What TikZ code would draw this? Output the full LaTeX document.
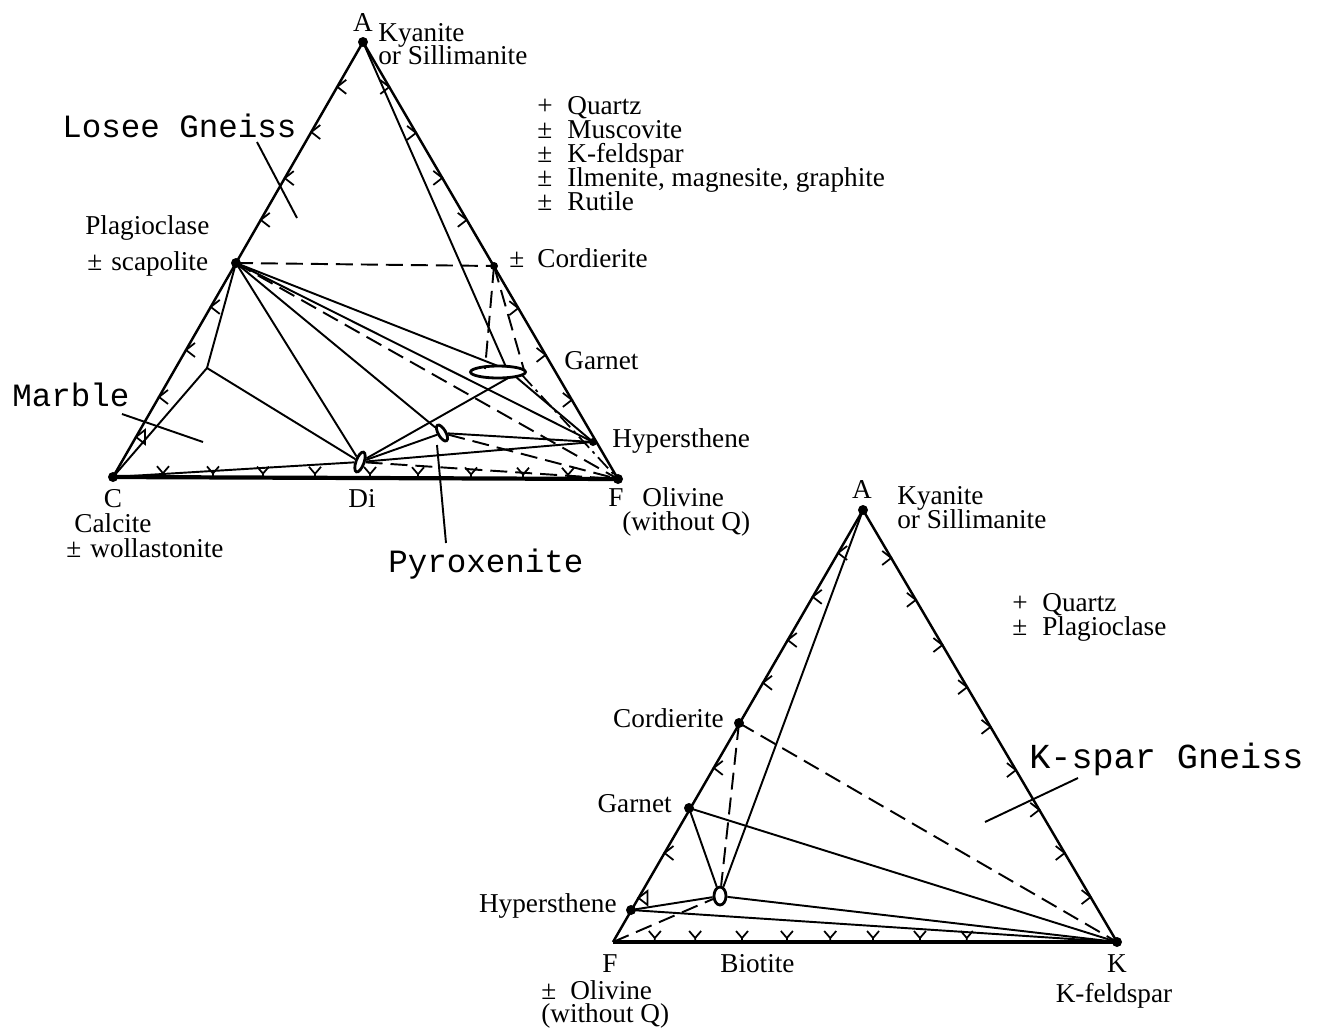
\documentclass[tikz,border=0pt]{standalone}
\usepackage{fontspec}
\setmainfont{Liberation Serif}
\newfontfamily\monofont{Liberation Mono}
\usetikzlibrary{shapes.geometric,calc}
\begin{document}
\begin{tikzpicture}[x=0.02cm,y=-0.02cm,
  edge/.style={line width=1.4pt},
  base/.style={line width=2.4pt},
  tie/.style={line width=1.1pt},
  dsh/.style={line width=1.1pt, dash pattern=on 0.34cm off 0.16cm},
  dd/.style={line width=1.0pt, dash pattern=on 0.3cm off 0.1cm on 0.06cm off 0.1cm},
  dot/.style={circle, fill, inner sep=0pt, minimum size=0.2cm},
  oval/.style={ellipse, draw, line width=1.6pt, inner sep=0pt},
  lbl/.style={font=\fontsize{15.5}{18}\selectfont, inner sep=0pt},
  mono/.style={font=\monofont\fontsize{18.5}{20}\selectfont, inner sep=0pt},
  tick/.style={line width=1.0pt},
  chevL/.pic={\draw[tick] (9,-7) -- (0,0) -- (9,7);},
  chevR/.pic={\draw[tick] (-9,-7) -- (0,0) -- (-9,7);},
  chevT/.pic={\draw[tick] (9,-7) -- (0,0) -- (9,7) -- cycle;},
  chevY/.pic={\draw[tick] (-6,-11) -- (0,-4) -- (6,-11) (0,-4) -- (0,0);}
]
\useasboundingbox (0,0) rectangle (1326,1032);

% ---------------- upper triangle ----------------
\node[dot] (A) at (363,42) {};
\node[dot] (C) at (113,477) {};
\node[dot] (F) at (618,479) {};
\node[dot] (P) at (236,263) {};
\node[dot, minimum size=0.16cm] (Cd) at (494,266) {};
\node[dot, minimum size=0.16cm] (H) at (593,442) {};
\coordinate (K1) at (207,368);
\node[oval, minimum width=0.16cm, minimum height=0.42cm, rotate=-20] (Di) at (360,462) {};
\node[oval, minimum width=0.15cm, minimum height=0.36cm, rotate=30] (Px) at (442,433) {};
\node[oval, minimum width=1.1cm, minimum height=0.24cm] (Gt) at (498,372) {};
\coordinate (gA) at (506,367);
\coordinate (gCl) at (485,369);
\coordinate (gCr) at (524,370);
\coordinate (gP) at (498,366);
\coordinate (gD) at (510,377);
\coordinate (gH) at (516,377);
\coordinate (gF) at (522,375);

\draw[edge] (A.center) -- (C.center);
\draw[edge] (A.center) -- (F.center);
\draw[base] (C.center) -- (F.center);
\draw[tie] (A.center) -- (gA);
\draw[tie] (P.center) -- (K1) -- (C.center);
\draw[tie] (K1) -- (Di);
\draw[tie] (P.center) -- (Di);
\draw[tie] (P.center) -- (Px);
\draw[tie] (P.center) -- (gP);
\draw[tie] (P.center) -- (H.center);
\draw[tie] (C.center) -- (Di);
\draw[tie] (Di) -- (H.center);
\draw[tie] (Di) -- (gD);
\draw[tie] (Di) -- (Px);
\draw[tie] (Px) -- (H.center);
\draw[tie] (gH) -- (H.center);
\draw[dsh] (P.center) -- (Cd.center);
\draw[dsh] (Cd.center) -- (gCl);
\draw[dsh] (Cd.center) -- (gCr);
\draw[dsh] (P.center) -- (F.center);
\draw[dd] (gF) -- (F.center);
\draw[dsh] (Di) -- (F.center);
\draw[dsh] (Px) -- (F.center);

\foreach \t in {0.103,0.207,0.313,0.409,0.609,0.708,0.816}
  \pic at ($(A.center)!\t!(C.center)$) {chevL};
\pic at ($(A.center)!0.908!(C.center)$) {chevT};
\foreach \t in {0.103,0.208,0.311,0.407,0.609,0.716,0.819}
  \pic at ($(A.center)!\t!(F.center)$) {chevR};
\foreach \t in {0.099,0.198,0.297,0.400,0.509,0.604,0.709,0.812,0.901}
  \pic at ($(C.center)!\t!(F.center)$) {chevY};

% labels upper
\node[lbl, anchor=base] (tA) at (363,31) {A};
\node[lbl, anchor=base west] (ky1) at (378,41)
  {\vtop{\baselineskip=0.46cm\lineskiplimit=-20pt\hbox{Kyanite}\hbox{or Sillimanite}}};
\node[lbl, anchor=base west] (q1) at (537,114)
  {\vtop{\baselineskip=0.485cm\lineskiplimit=-20pt
   \hbox{\makebox[0.6cm][l]{+}Quartz}
   \hbox{\makebox[0.6cm][l]{±}Muscovite}
   \hbox{\makebox[0.6cm][l]{±}K-feldspar}
   \hbox{\makebox[0.6cm][l]{±}Ilmenite, magnesite, graphite}
   \hbox{\makebox[0.6cm][l]{±}Rutile}}};
\node[lbl, anchor=base west] (tCd) at (509,267) {\makebox[0.56cm][l]{±}Cordierite};
\node[lbl, anchor=base west] (tGt) at (564,369) {Garnet};
\node[lbl, anchor=base west] (tH) at (612,447) {Hypersthene};
\node[lbl, anchor=base west] (tP1) at (85,234) {Plagioclase};
\node[lbl, anchor=base west] (tP2) at (87,270) {\makebox[0.48cm][l]{±}scapolite};
\node[mono, anchor=base west] (tLG) at (62,137) {Losee Gneiss};
\node[mono, anchor=base west] (tMb) at (12,406) {Marble};
\node[lbl, anchor=base] (tC) at (113,507) {C};
\node[lbl, anchor=base] (tC2) at (113,532) {Calcite};
\node[lbl, anchor=base west] (tC3) at (66,557) {\makebox[0.48cm][l]{±}wollastonite};
\node[lbl, anchor=base] (tDi) at (362,507) {Di};
\node[lbl, anchor=base] (tF) at (616,506) {F};
\node[lbl, anchor=base west] (tOl) at (622,506)
  {\vtop{\baselineskip=0.48cm\lineskiplimit=-20pt\hbox{\hspace*{0.4cm}Olivine}\hbox{(without Q)}}};
\node[mono, anchor=base west] (tPx) at (388,572) {Pyroxenite};

\coordinate (l1a) at (257,142); \coordinate (l1b) at (297,218);
\draw[tie] (l1a) -- (l1b);
\coordinate (l2a) at (122,414); \coordinate (l2b) at (203,442);
\draw[tie] (l2a) -- (l2b);
\coordinate (l3a) at (437,445); \coordinate (l3b) at (446,543);
\draw[tie] (l3a) -- (l3b);

% ---------------- lower triangle ----------------
\node[dot] (A2) at (863,510) {};
\coordinate (F2) at (613,942);
\node[dot] (K) at (1117,942) {};
\node[dot] (Cd2) at (739,723) {};
\node[dot] (G2) at (689,808) {};
\node[dot] (H2) at (631,910) {};
\node[oval, minimum width=0.24cm, minimum height=0.36cm] (Bt) at (720,896) {};

\draw[edge] (A2.center) -- (F2);
\draw[edge] (A2.center) -- (K.center);
\draw[base] (F2) -- (K.center);
\draw[tie] (A2.center) -- (Bt);
\draw[tie] (G2.center) -- (Bt);
\draw[tie] (G2.center) -- (K.center);
\draw[tie] (H2.center) -- (Bt);
\draw[tie] (H2.center) -- (K.center);
\draw[tie] (Bt) -- (K.center);
\draw[dsh] (Cd2.center) -- (Bt);
\draw[dsh] (Cd2.center) -- (K.center);
\draw[dsh] (F2) -- (Bt);

\foreach \t in {0.0995,0.201,0.301,0.400,0.597,0.794}
  \pic at ($(A2.center)!\t!(F2)$) {chevL};
\pic at ($(A2.center)!0.898!(F2)$) {chevT};
\foreach \t in {0.111,0.208,0.3125,0.410,0.502,0.602,0.694,0.794,0.896}
  \pic at ($(A2.center)!\t!(K.center)$) {chevR};
\foreach \t in {0.083,0.163,0.256,0.345,0.431,0.516,0.609,0.702}
  \pic at ($(F2)!\t!(K.center)$) {chevY};

% labels lower
\node[lbl, anchor=base] (tA2) at (862,498) {A};
\node[lbl, anchor=base west] (ky3) at (897,504)
  {\vtop{\baselineskip=0.48cm\lineskiplimit=-20pt\hbox{Kyanite}\hbox{or Sillimanite}}};
\node[lbl, anchor=base west] (q6) at (1012,611)
  {\vtop{\baselineskip=0.48cm\lineskiplimit=-20pt
   \hbox{\makebox[0.6cm][l]{+}Quartz}
   \hbox{\makebox[0.6cm][l]{±}Plagioclase}}};
\node[lbl, anchor=base east] (tCd2) at (724,727) {Cordierite};
\node[lbl, anchor=base east] (tG2) at (672,812) {Garnet};
\node[lbl, anchor=base east] (tH2) at (617,912) {Hypersthene};
\node[lbl, anchor=base] (tF2) at (610,972) {F};
\node[lbl, anchor=base west] (tOl3) at (541,999)
  {\vtop{\baselineskip=0.46cm\lineskiplimit=-20pt\hbox{\makebox[0.58cm][l]{±}Olivine}\hbox{(without Q)}}};
\node[lbl, anchor=base west] (tBt) at (720,972) {Biotite};
\node[lbl, anchor=base] (tK) at (1117,972) {K};
\node[lbl, anchor=base] (tK2) at (1114,1002) {K-feldspar};
\node[mono, anchor=base west, font=\monofont\fontsize{20}{22}\selectfont] (tKG) at (1029,768) {K-spar Gneiss};

\coordinate (l4a) at (985,822); \coordinate (l4b) at (1078,778);
\draw[tie] (l4a) -- (l4b);
\end{tikzpicture}
\end{document}
